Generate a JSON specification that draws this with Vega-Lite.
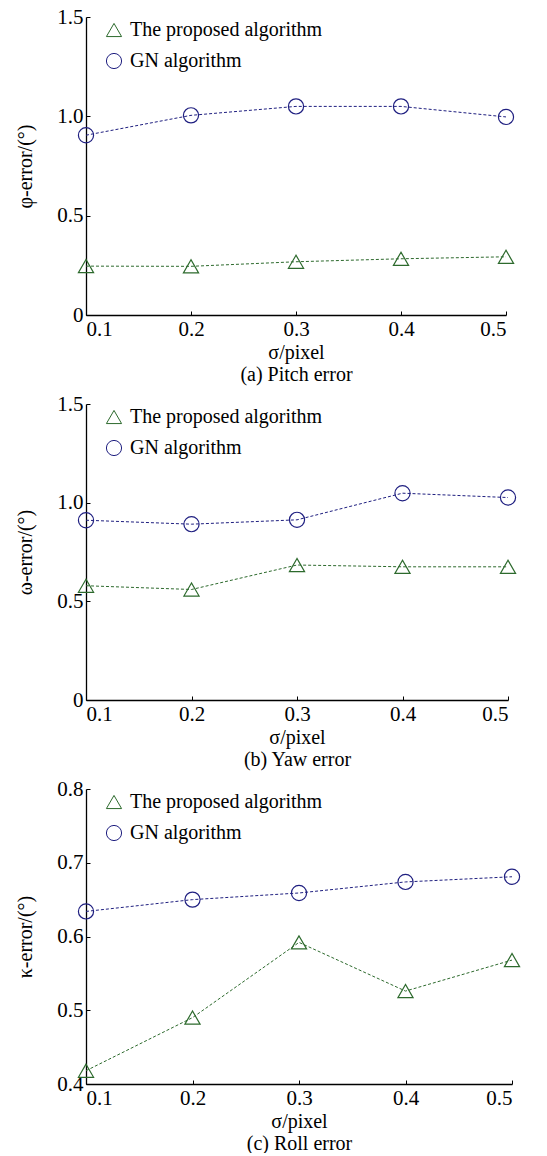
{
  "$schema": "https://vega.github.io/schema/vega-lite/v6.json",
  "background": "white",
  "padding": {"top": 6, "left": 15, "right": 6, "bottom": 0},
  "spacing": 9,
  "config": {
    "view": {"stroke": null},
    "font": "Liberation Serif",
    "axis": {
      "labelFont": "Liberation Serif", "titleFont": "Liberation Serif",
      "labelFontSize": 21, "titleFontSize": 20, "titleFontWeight": "normal",
      "labelColor": "black", "titleColor": "black",
      "domainColor": "black", "domainWidth": 1.3, "tickColor": "black", "tickSize": -4, "grid": false,
      "labelPadding": 7
    },
    "legend": {
      "labelFont": "Liberation Serif", "labelFontSize": 20, "labelColor": "black", "labelLimit": 0,
      "orient": "none", "legendX": 18, "legendY": 3, "rowPadding": 11, "symbolSize": 230, "symbolStrokeWidth": 1, "title": null,
      "labelOffset": 6, "padding": 0
    }
  },
  "datasets": {
    "pitch": [
      {"sigma": 0.1, "error": 0.246, "method": "The proposed algorithm"},
      {"sigma": 0.2, "error": 0.245, "method": "The proposed algorithm"},
      {"sigma": 0.3, "error": 0.268, "method": "The proposed algorithm"},
      {"sigma": 0.4, "error": 0.283, "method": "The proposed algorithm"},
      {"sigma": 0.5, "error": 0.293, "method": "The proposed algorithm"},
      {"sigma": 0.1, "error": 0.905, "method": "GN algorithm"},
      {"sigma": 0.2, "error": 1.005, "method": "GN algorithm"},
      {"sigma": 0.3, "error": 1.05, "method": "GN algorithm"},
      {"sigma": 0.4, "error": 1.05, "method": "GN algorithm"},
      {"sigma": 0.5, "error": 0.997, "method": "GN algorithm"}
    ],
    "yaw": [
      {"sigma": 0.1, "error": 0.579, "method": "The proposed algorithm"},
      {"sigma": 0.2, "error": 0.560, "method": "The proposed algorithm"},
      {"sigma": 0.3, "error": 0.684, "method": "The proposed algorithm"},
      {"sigma": 0.4, "error": 0.675, "method": "The proposed algorithm"},
      {"sigma": 0.5, "error": 0.675, "method": "The proposed algorithm"},
      {"sigma": 0.1, "error": 0.911, "method": "GN algorithm"},
      {"sigma": 0.2, "error": 0.891, "method": "GN algorithm"},
      {"sigma": 0.3, "error": 0.913, "method": "GN algorithm"},
      {"sigma": 0.4, "error": 1.048, "method": "GN algorithm"},
      {"sigma": 0.5, "error": 1.026, "method": "GN algorithm"}
    ],
    "roll": [
      {"sigma": 0.1, "error": 0.418, "method": "The proposed algorithm"},
      {"sigma": 0.2, "error": 0.490, "method": "The proposed algorithm"},
      {"sigma": 0.3, "error": 0.592, "method": "The proposed algorithm"},
      {"sigma": 0.4, "error": 0.526, "method": "The proposed algorithm"},
      {"sigma": 0.5, "error": 0.568, "method": "The proposed algorithm"},
      {"sigma": 0.1, "error": 0.634, "method": "GN algorithm"},
      {"sigma": 0.2, "error": 0.650, "method": "GN algorithm"},
      {"sigma": 0.3, "error": 0.659, "method": "GN algorithm"},
      {"sigma": 0.4, "error": 0.674, "method": "GN algorithm"},
      {"sigma": 0.5, "error": 0.681, "method": "GN algorithm"}
    ]
  },
  "vconcat": [
    {
      "width": 420, "height": 298,
      "data": {"name": "pitch"},
      "encoding": {
        "x": {"field": "sigma", "type": "quantitative", "scale": {"domain": [0.1, 0.5], "nice": false, "zero": false},
              "axis": {"values": [0.1, 0.2, 0.3, 0.4, 0.5], "format": ".1f", "title": ["σ/pixel", "(a) Pitch error"], "titlePadding": 3, "titleLineHeight": 22}},
        "y": {"field": "error", "type": "quantitative", "scale": {"domain": [0, 1.5], "nice": false},
              "axis": {"values": [0, 0.5, 1, 1.5], "labelExpr": "datum.value == 0 ? '0' : format(datum.value, '.1f')", "title": "φ-error/(°)", "titlePadding": 21}}
      },
      "layer": [
        {"transform": [{"filter": "datum.method == 'The proposed algorithm'"}], "mark": {"type": "line", "color": "#2d6a2d", "strokeWidth": 1, "strokeDash": [3, 2]}},
        {"transform": [{"filter": "datum.method == 'GN algorithm'"}], "mark": {"type": "line", "color": "#1f1f80", "strokeWidth": 1, "strokeDash": [3, 2]}},
        {"mark": {"type": "point", "filled": false, "size": 230, "strokeWidth": 1.2, "opacity": 1},
         "encoding": {
           "color": {"field": "method", "type": "nominal", "scale": {"domain": ["The proposed algorithm", "GN algorithm"], "range": ["#2d6a2d", "#1f1f80"]}},
           "shape": {"field": "method", "type": "nominal", "scale": {"domain": ["The proposed algorithm", "GN algorithm"], "range": ["triangle-up", "circle"]}}
         }}
      ]
    },
    {
      "width": 422, "height": 296,
      "data": {"name": "yaw"},
      "encoding": {
        "x": {"field": "sigma", "type": "quantitative", "scale": {"domain": [0.1, 0.5], "nice": false, "zero": false},
              "axis": {"values": [0.1, 0.2, 0.3, 0.4, 0.5], "format": ".1f", "title": ["σ/pixel", "(b) Yaw error"], "titlePadding": 3, "titleLineHeight": 22}},
        "y": {"field": "error", "type": "quantitative", "scale": {"domain": [0, 1.5], "nice": false},
              "axis": {"values": [0, 0.5, 1, 1.5], "labelExpr": "datum.value == 0 ? '0' : format(datum.value, '.1f')", "title": "ω-error/(°)", "titlePadding": 21}}
      },
      "layer": [
        {"transform": [{"filter": "datum.method == 'The proposed algorithm'"}], "mark": {"type": "line", "color": "#2d6a2d", "strokeWidth": 1, "strokeDash": [3, 2]}},
        {"transform": [{"filter": "datum.method == 'GN algorithm'"}], "mark": {"type": "line", "color": "#1f1f80", "strokeWidth": 1, "strokeDash": [3, 2]}},
        {"mark": {"type": "point", "filled": false, "size": 230, "strokeWidth": 1.2, "opacity": 1},
         "encoding": {
           "color": {"field": "method", "type": "nominal", "scale": {"domain": ["The proposed algorithm", "GN algorithm"], "range": ["#2d6a2d", "#1f1f80"]}},
           "shape": {"field": "method", "type": "nominal", "scale": {"domain": ["The proposed algorithm", "GN algorithm"], "range": ["triangle-up", "circle"]}}
         }}
      ]
    },
    {
      "width": 426, "height": 295,
      "data": {"name": "roll"},
      "encoding": {
        "x": {"field": "sigma", "type": "quantitative", "scale": {"domain": [0.1, 0.5], "nice": false, "zero": false},
              "axis": {"values": [0.1, 0.2, 0.3, 0.4, 0.5], "format": ".1f", "title": ["σ/pixel", "(c) Roll error"], "titlePadding": 3, "titleLineHeight": 22}},
        "y": {"field": "error", "type": "quantitative", "scale": {"domain": [0.4, 0.8], "nice": false, "zero": false},
              "axis": {"values": [0.4, 0.5, 0.6, 0.7, 0.8], "format": ".1f", "title": "κ-error/(°)", "titlePadding": 21}}
      },
      "layer": [
        {"transform": [{"filter": "datum.method == 'The proposed algorithm'"}], "mark": {"type": "line", "color": "#2d6a2d", "strokeWidth": 1, "strokeDash": [3, 2]}},
        {"transform": [{"filter": "datum.method == 'GN algorithm'"}], "mark": {"type": "line", "color": "#1f1f80", "strokeWidth": 1, "strokeDash": [3, 2]}},
        {"mark": {"type": "point", "filled": false, "size": 230, "strokeWidth": 1.2, "opacity": 1},
         "encoding": {
           "color": {"field": "method", "type": "nominal", "scale": {"domain": ["The proposed algorithm", "GN algorithm"], "range": ["#2d6a2d", "#1f1f80"]}},
           "shape": {"field": "method", "type": "nominal", "scale": {"domain": ["The proposed algorithm", "GN algorithm"], "range": ["triangle-up", "circle"]}}
         }}
      ]
    }
  ],
  "resolve": {"scale": {"color": "independent", "shape": "independent"}, "legend": {"color": "independent", "shape": "independent"}}
}
